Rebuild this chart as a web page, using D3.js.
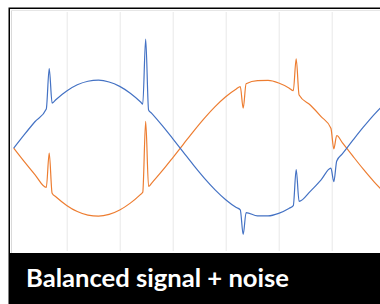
<!DOCTYPE html>
<html>
<head>
<meta charset="utf-8">
<script src="https://cdn.jsdelivr.net/npm/d3@7"></script>
<style>
  html, body { margin: 0; padding: 0; background: #fff; overflow: hidden; }
  svg { display: block; }
</style>
</head>
<body>
<svg id="chart" width="380" height="304"></svg>
<script>
// ---- data (x in radians) ----
const xValues = [0, 0.2, 0.4, 0.615, 0.67, 0.725, 0.8, 1.0, 1.2, 1.4, 1.6, 1.8, 2.0, 2.2, 2.4, 2.435, 2.49, 2.545, 2.6, 2.8, 3.0, 3.2, 3.4, 3.6, 3.8, 4.0, 4.2, 4.275, 4.33, 4.385, 4.6, 4.8, 5.0, 5.2, 5.275, 5.33, 5.385, 5.6, 5.8, 5.985, 6.04, 6.095, 6.2, 6.4, 6.6, 6.8, 7.0];
const blueValues = [0, 0.199, 0.389, 0.577, 1.171, 0.663, 0.717, 0.841, 0.932, 0.985, 1.000, 0.974, 0.909, 0.808, 0.675, 0.649, 1.606, 0.562, 0.516, 0.335, 0.141, -0.058, -0.256, -0.443, -0.612, -0.757, -0.872, -0.906, -1.268, -0.947, -0.994, -0.996, -0.959, -0.883, -0.846, -0.315, -0.782, -0.631, -0.465, -0.294, -0.491, -0.187, -0.083, 0.117, 0.312, 0.494, 0.657];
const orangeValues = [0, -0.199, -0.389, -0.577, -0.071, -0.663, -0.717, -0.841, -0.932, -0.985, -1.000, -0.974, -0.909, -0.808, -0.675, -0.649, 0.394, -0.562, -0.516, -0.335, -0.141, 0.058, 0.256, 0.443, 0.612, 0.757, 0.872, 0.906, 0.588, 0.947, 0.994, 0.996, 0.959, 0.883, 0.846, 1.315, 0.782, 0.631, 0.465, 0.294, -0.009, 0.187, 0.083, -0.117, -0.312, -0.494, -0.657];
const gridTicks = [1, 2, 3, 4, 5, 6, 7];
const titleText = "Balanced signal + noise";

const svg = d3.select("#chart");

// frame
svg.append("rect").attr("x", 8.5).attr("y", 7.5).attr("width", 400).attr("height", 400).attr("fill", "#000");
svg.append("rect").attr("x", 10).attr("y", 9).attr("width", 400).attr("height", 244).attr("fill", "#fff");
svg.append("line").attr("x1", 11.5).attr("x2", 11.5).attr("y1", 10).attr("y2", 253).attr("stroke", "#d9d9d9").attr("stroke-width", 1);
svg.append("line").attr("x1", 11).attr("x2", 400).attr("y1", 10.5).attr("y2", 10.5).attr("stroke", "#e6e6e6").attr("stroke-width", 1);

const x = d3.scaleLinear().domain([0, 7]).range([13.7, 13.7 + 7 * 53]);
const y = d3.scaleLinear().domain([-1, 1]).range([216.2, 80.2]);

svg.append("defs").append("clipPath").attr("id", "plotclip")
  .append("rect").attr("x", 12).attr("y", 11).attr("width", 370).attr("height", 242);

// gridlines
const grid = svg.append("g").attr("transform", "translate(0,251)")
  .call(d3.axisBottom(x).tickValues(gridTicks).tickSize(-239).tickFormat(""));
grid.select(".domain").remove();
grid.selectAll(".tick line").attr("stroke", "#e8e8e8").attr("stroke-width", 1);

const plot = svg.append("g").attr("clip-path", "url(#plotclip)");
const line = d3.line().x(d => x(d[0])).y(d => y(d[1])).curve(d3.curveMonotoneX);

plot.append("path")
  .attr("d", line(xValues.map((v, i) => [v, orangeValues[i]])))
  .attr("fill", "none").attr("stroke", "#ED7D31").attr("stroke-width", 1.2).attr("stroke-linejoin", "round");
plot.append("path")
  .attr("d", line(xValues.map((v, i) => [v, blueValues[i]])))
  .attr("fill", "none").attr("stroke", "#4472C4").attr("stroke-width", 1.2).attr("stroke-linejoin", "round");

// title band
svg.append("rect").attr("x", 9).attr("y", 253).attr("width", 380).attr("height", 60).attr("fill", "#000");
const t = svg.append("text")
  .attr("x", 26).attr("y", 287)
  .attr("fill", "#fff")
  .attr("font-family", "Lato, 'Open Sans', sans-serif")
  .attr("font-weight", 700)
  .attr("font-size", 22)
  .text(titleText);
const w = t.node().getComputedTextLength();
t.attr("font-size", 22 * 263 / w);
</script>
</body>
</html>
